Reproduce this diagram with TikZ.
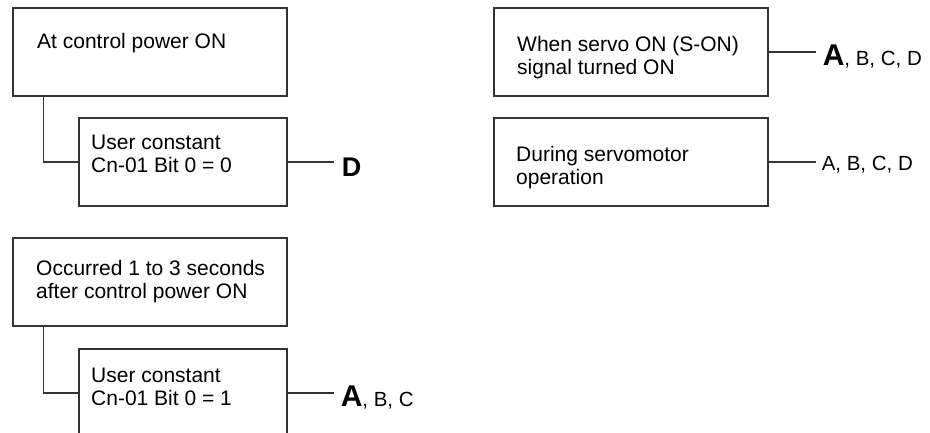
\documentclass[tikz,border=0pt]{standalone}
\usepackage{fontspec}
\setmainfont{Liberation Sans}
\begin{document}
\begin{tikzpicture}[x=1pt,y=-1pt,
  box/.style={draw=black!80,line width=1.1pt,rectangle,inner sep=0pt,minimum height=88pt},
  widebox/.style={box,minimum width=274pt},
  narrowbox/.style={box,minimum width=208pt},
  txt/.style={anchor=base west,inner sep=0pt,align=left,font=\fontsize{21}{23}\selectfont},
  conn/.style={draw=black!80,line width=1.1pt},
  lbl/.style={anchor=base west,inner sep=0pt,font=\fontsize{20.5}{22}\selectfont}]
\clip (0,0) rectangle (930,432);
\useasboundingbox (0,0) rectangle (930,432);
% boxes
\node[widebox] (b1) at (150,52) {};
\node[narrowbox] (b2) at (183,162) {};
\node[widebox] (b3) at (150,282) {};
\node[narrowbox] (b4) at (183,393) {};
\node[widebox] (b5) at (631,52) {};
\node[widebox] (b6) at (631,162) {};
% texts (base = baseline of last line)
\node[txt] (t1) at (37,48) {At control power ON};
\node[txt] (t2) at (91,172) {User constant\\Cn-01 Bit 0 = 0};
\node[txt] (t3) at (36,298) {Occurred 1 to 3 seconds\\after control power ON};
\node[txt] (t4) at (91,405) {User constant\\Cn-01 Bit 0 = 1};
\node[txt] (t5) at (517,74) {When servo ON (S-ON)\\signal turned ON};
\node[txt] (t6) at (516,184) {During servomotor\\operation};
% tree connectors
\draw[conn] ([xshift=31pt]b1.south west) |- (b2.west);
\draw[conn] ([xshift=31pt]b3.south west) |- (b4.west);
% result lines
\coordinate (e2) at ([xshift=46pt]b2.east);
\coordinate (e4) at ([xshift=46pt]b4.east);
\coordinate (e5) at ([xshift=47pt]b5.east);
\coordinate (e6) at ([xshift=47pt]b6.east);
\draw[conn] (b2.east) -- (e2);
\draw[conn] (b4.east) -- (e4);
\draw[conn] (b5.east) -- (e5);
\draw[conn] (b6.east) -- (e6);
\node[lbl] (l2) at ([shift={(8,14)}]e2) {{\fontsize{27}{30}\selectfont\bfseries D}};
\node[lbl] (l4) at ([shift={(7,13)}]e4) {{\fontsize{30}{32}\selectfont\bfseries A}, B, C};
\node[lbl] (l5) at ([shift={(7,13)}]e5) {{\fontsize{30}{32}\selectfont\bfseries A}, B, C, D};
\node[lbl] (l6) at ([shift={(6,8)}]e6) {A, B, C, D};
\end{tikzpicture}
\end{document}
